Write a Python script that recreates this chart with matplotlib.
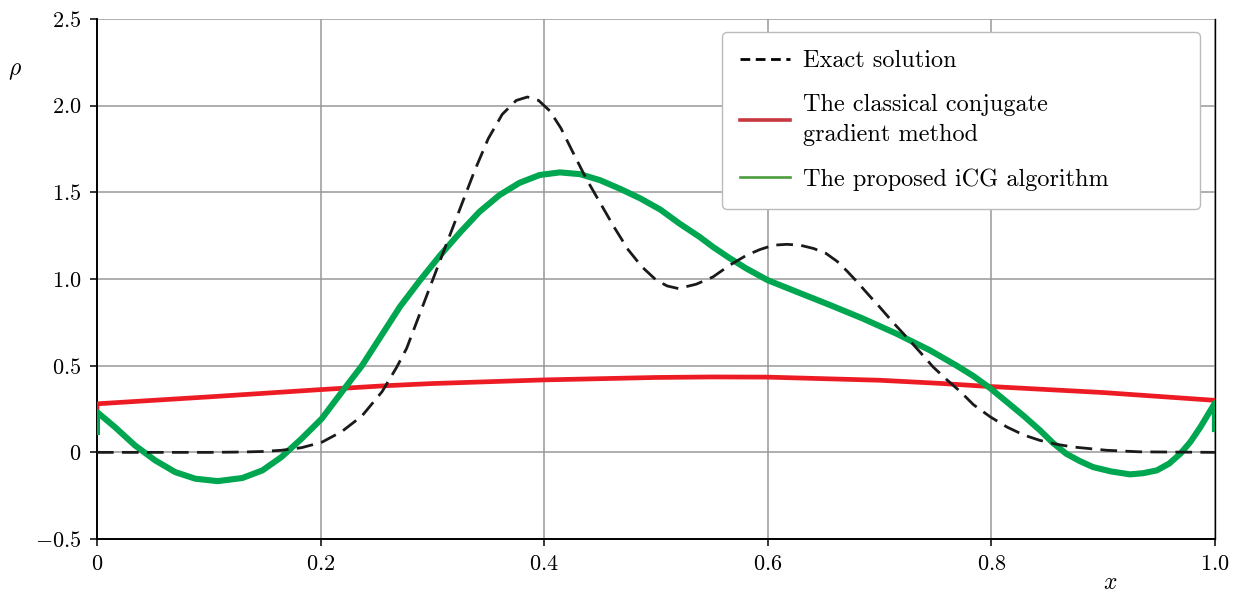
import matplotlib
matplotlib.use('Agg')
import matplotlib.pyplot as plt
from matplotlib.lines import Line2D

plt.rcParams['font.family'] = 'serif'
plt.rcParams['font.serif'] = ['cmr10', 'DejaVu Serif']
plt.rcParams['mathtext.fontset'] = 'cm'

# exact solution (black dashed)
x_exact = [0, 0.05, 0.1, 0.13, 0.148, 0.165, 0.183, 0.201, 0.219, 0.237, 0.255, 0.268,
           0.277, 0.3, 0.3125, 0.325, 0.3375, 0.35, 0.3625, 0.375, 0.385, 0.395, 0.405,
           0.415, 0.425, 0.4375, 0.45, 0.4625, 0.475, 0.4875, 0.5, 0.51, 0.52, 0.536,
           0.551, 0.566, 0.581, 0.593, 0.605, 0.617, 0.629, 0.641, 0.652, 0.662, 0.671,
           0.68, 0.69, 0.7, 0.712, 0.724, 0.736, 0.748, 0.76, 0.772, 0.784, 0.799,
           0.814, 0.829, 0.8435, 0.858, 0.873, 0.903, 0.933, 1.0]
y_exact = [0, 0, 0, 0.002, 0.005, 0.012, 0.027, 0.058, 0.12, 0.21, 0.35, 0.49,
           0.6, 0.99, 1.2, 1.41, 1.62, 1.81, 1.95, 2.03, 2.05, 2.03, 1.97,
           1.87, 1.74, 1.58, 1.44, 1.3, 1.17, 1.07, 0.995, 0.96, 0.945, 0.97,
           1.012, 1.08, 1.137, 1.17, 1.195, 1.2, 1.195, 1.176, 1.148, 1.102, 1.045,
           0.983, 0.91, 0.839, 0.75, 0.666, 0.58, 0.492, 0.42, 0.352, 0.275, 0.205,
           0.146, 0.1, 0.069, 0.047, 0.031, 0.012, 0.003, 0]

# classical conjugate gradient (red)
x_cg = [0, 0, 0.1, 0.2, 0.26, 0.3, 0.4, 0.5, 0.55, 0.6, 0.7, 0.754, 0.79, 0.9, 1.0, 1.0]
y_cg = [0.243, 0.28, 0.32, 0.362, 0.385, 0.397, 0.418, 0.432, 0.435, 0.434, 0.416,
        0.398, 0.383, 0.345, 0.30, 0.27]

# proposed iCG (green)
x_icg = [0, 0, 0.016, 0.034, 0.052, 0.07, 0.088, 0.108, 0.13, 0.148, 0.165, 0.183,
         0.201, 0.219, 0.237, 0.253, 0.271, 0.289, 0.307, 0.325, 0.342, 0.36, 0.378,
         0.396, 0.414, 0.432, 0.45, 0.468, 0.486, 0.504, 0.521, 0.539, 0.551, 0.566,
         0.581, 0.6, 0.626, 0.656, 0.685, 0.715, 0.745, 0.769, 0.784, 0.799,
         0.814, 0.829, 0.8435, 0.855, 0.867, 0.879, 0.891, 0.907, 0.924, 0.936, 0.948,
         0.959, 0.969, 0.978, 0.987, 0.993, 1.0, 1.0]
y_icg = [0.10, 0.233, 0.146, 0.04, -0.046, -0.114, -0.152, -0.166, -0.148, -0.104,
         -0.027, 0.079, 0.194, 0.348, 0.50, 0.66, 0.84, 0.993, 1.137, 1.27, 1.387,
         1.484, 1.555, 1.60, 1.615, 1.605, 1.57, 1.52, 1.465, 1.40, 1.32, 1.243,
         1.185, 1.12, 1.06, 0.993, 0.926, 0.849, 0.772, 0.685, 0.589, 0.50,
         0.44, 0.37, 0.29, 0.21, 0.127, 0.055, -0.008, -0.05, -0.085, -0.11, -0.127,
         -0.12, -0.104, -0.065, -0.008, 0.06, 0.146, 0.21, 0.285, 0.117]

xticks = [0, 0.2, 0.4, 0.6, 0.8, 1.0]
xlabels = ['$0$', '$0.2$', '$0.4$', '$0.6$', '$0.8$', '$1.0$']
yticks = [-0.5, 0, 0.5, 1.0, 1.5, 2.0, 2.5]
ylabels = ['$-0.5$', '$0$', '$0.5$', '$1.0$', '$1.5$', '$2.0$', '$2.5$']

fig = plt.figure(figsize=(12.4, 5.93), dpi=100)
ax = fig.add_axes([0.0782, 0.091, 0.9016, 0.877])

ax.plot(x_cg, y_cg, color='#ed1c24', lw=3.4, solid_capstyle='butt', zorder=3)
ax.plot(x_icg, y_icg, color='#00a650', lw=4.4, solid_capstyle='butt',
        solid_joinstyle='round', zorder=4)
ax.plot(x_exact, y_exact, color='#1a1a1a', lw=2.0, dashes=(6, 3), zorder=5)

ax.set_xlim(0, 1)
ax.set_ylim(-0.5, 2.5)
ax.set_xticks(xticks)
ax.set_xticklabels(xlabels)
ax.set_yticks(yticks)
ax.set_yticklabels(ylabels)
ax.tick_params(direction='out', length=5, width=1.1, labelsize=16, pad=6)
ax.grid(True, color='#999999', lw=1.1)
ax.set_axisbelow(True)

ax.spines['top'].set_visible(False)
ax.spines['left'].set_linewidth(1.4)
ax.spines['bottom'].set_linewidth(1.4)
ax.spines['right'].set_linewidth(1.0)

ax.text(-0.073, 0.9, r'$\rho$', transform=ax.transAxes, fontsize=17,
        ha='center', va='center')
ax.text(0.906, -0.085, r'$x$', transform=ax.transAxes, fontsize=17,
        ha='center', va='center')

handles = [
    Line2D([], [], color='black', lw=2.0, dashes=(3.5, 2)),
    Line2D([], [], color='#c8383f', lw=2.6),
    Line2D([], [], color='#4c9d3e', lw=1.9),
]
labels = ['Exact solution', 'The classical conjugate\ngradient method',
          'The proposed iCG algorithm']
leg = ax.legend(handles, labels, loc='upper left', bbox_to_anchor=(0.559, 0.5, 0.4275, 0.475),
                mode='expand', fontsize=17.5, handlelength=2.05, handletextpad=0.55,
                labelspacing=0.9, borderpad=0.75, borderaxespad=0.0, fancybox=True,
                framealpha=1.0, edgecolor='#bbbbbb')
leg.get_frame().set_linewidth(1.0)
for t in leg.get_texts():
    t.set_linespacing(1.45)

fig.savefig('out.png', dpi=100)
